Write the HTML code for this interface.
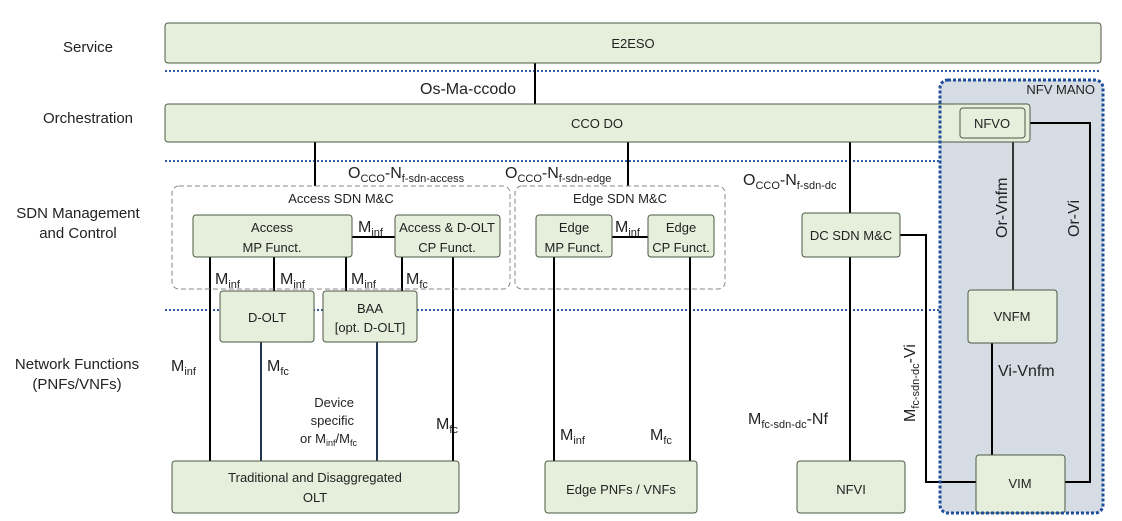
<!DOCTYPE html>
<html><head><meta charset="utf-8"><style>
html,body{margin:0;padding:0;background:#fff}
svg{display:block}
text{font-family:"Liberation Sans",sans-serif;fill:#222}
.b{fill:#e6efdb;stroke:#4a5a44;stroke-width:1}
.l{stroke:#000;stroke-width:2;fill:none}
.d{stroke:#2e5fa8;stroke-width:2;stroke-dasharray:2,2;fill:none}
.t{font-size:13px;text-anchor:middle}
.c{font-size:16px}
.s{font-size:11px}
</style></head><body>
<svg width="1122" height="521" viewBox="0 0 1122 521" xmlns="http://www.w3.org/2000/svg">
<!-- MANO background -->
<rect x="940" y="80" width="163" height="433" rx="8" fill="#d6dce4"/>
<!-- layer labels -->
<g font-size="15" text-anchor="middle">
<text x="88" y="52">Service</text>
<text x="88" y="123">Orchestration</text>
<text x="78" y="218">SDN Management</text>
<text x="78" y="238">and Control</text>
<text x="77" y="369">Network Functions</text>
<text x="77" y="389">(PNFs/VNFs)</text>
</g>
<!-- dotted separators -->
<line class="d" x1="165" y1="71" x2="1100" y2="71"/>
<line class="d" x1="165" y1="161" x2="940" y2="161"/>
<line class="d" x1="165" y1="310" x2="940" y2="310"/>
<!-- connectors -->
<line class="l" x1="535" y1="63" x2="535" y2="104"/>
<line class="l" x1="315" y1="142" x2="315" y2="186"/>
<line class="l" x1="628" y1="142" x2="628" y2="186"/>
<line class="l" x1="850" y1="142" x2="850" y2="213"/>
<line class="l" x1="352" y1="237" x2="395" y2="237"/>
<line class="l" x1="612" y1="237" x2="648" y2="237"/>
<line class="l" x1="210" y1="257" x2="210" y2="461"/>
<line class="l" x1="274" y1="257" x2="274" y2="291"/>
<line class="l" x1="346" y1="257" x2="346" y2="291"/>
<line class="l" x1="402" y1="257" x2="402" y2="291"/>
<line class="l" x1="453" y1="257" x2="453" y2="461"/>
<line class="l" x1="261" y1="342" x2="261" y2="461" style="stroke:#1f3550"/>
<line class="l" x1="377" y1="342" x2="377" y2="461" style="stroke:#1f3550"/>
<line class="l" x1="554" y1="257" x2="554" y2="461"/>
<line class="l" x1="690" y1="257" x2="690" y2="461"/>
<line class="l" x1="850" y1="257" x2="850" y2="461"/>
<polyline class="l" points="900,164 925,164 925,482 976,482" transform="translate(0,0)" style="display:none"/>
<polyline class="l" points="900,235 926,235 926,482 976,482"/>
<line class="l" x1="1013" y1="138" x2="1013" y2="290" style="stroke-width:1.5"/>
<line class="l" x1="992" y1="343" x2="992" y2="455"/>
<polyline class="l" points="1025,123 1090,123 1090,482 1065,482"/>
<!-- dashed groups -->
<rect x="172" y="186" width="338" height="103" rx="7" fill="none" stroke="#888" stroke-dasharray="5,3"/>
<rect x="515" y="186" width="210" height="103" rx="7" fill="none" stroke="#888" stroke-dasharray="5,3"/>
<text class="t" x="341" y="203" font-size="14">Access SDN M&amp;C</text>
<text class="t" x="620" y="203" font-size="14">Edge SDN M&amp;C</text>
<!-- boxes -->
<rect class="b" x="165" y="23" width="936" height="40" rx="3"/>
<text class="t" x="633" y="48">E2ESO</text>
<rect class="b" x="165" y="104" width="865" height="38" rx="3"/>
<text class="t" x="597" y="128">CCO DO</text>
<rect class="b" x="960" y="108" width="65" height="30" rx="3"/>
<text class="t" x="992" y="128">NFVO</text>
<rect class="b" x="193" y="215" width="159" height="42" rx="3"/>
<text class="t" x="272" y="232">Access</text><text class="t" x="272" y="252">MP Funct.</text>
<rect class="b" x="395" y="215" width="105" height="42" rx="3"/>
<text class="t" x="447" y="232">Access &amp; D-OLT</text><text class="t" x="447" y="252">CP Funct.</text>
<rect class="b" x="536" y="215" width="76" height="42" rx="3"/>
<text class="t" x="574" y="232">Edge</text><text class="t" x="574" y="252">MP Funct.</text>
<rect class="b" x="648" y="215" width="66" height="42" rx="3"/>
<text class="t" x="681" y="232">Edge</text><text class="t" x="681" y="252">CP Funct.</text>
<rect class="b" x="802" y="213" width="98" height="44" rx="3"/>
<text class="t" x="851" y="240">DC SDN M&amp;C</text>
<rect class="b" x="220" y="291" width="94" height="51" rx="3"/>
<text class="t" x="267" y="322">D-OLT</text>
<rect class="b" x="323" y="291" width="94" height="51" rx="3"/>
<text class="t" x="370" y="313">BAA</text><text class="t" x="370" y="332">[opt. D-OLT]</text>
<rect class="b" x="172" y="461" width="287" height="52" rx="3"/>
<text class="t" x="315" y="482">Traditional and Disaggregated</text><text class="t" x="315" y="502">OLT</text>
<rect class="b" x="545" y="461" width="152" height="52" rx="3"/>
<text class="t" x="621" y="494">Edge PNFs / VNFs</text>
<rect class="b" x="797" y="461" width="108" height="52" rx="3"/>
<text class="t" x="851" y="494">NFVI</text>
<rect class="b" x="968" y="290" width="89" height="53" rx="3"/>
<text class="t" x="1012" y="321">VNFM</text>
<rect class="b" x="976" y="455" width="89" height="58" rx="3"/>
<text class="t" x="1020" y="488">VIM</text>
<!-- MANO dotted border -->
<rect x="940" y="80" width="163" height="433" rx="8" fill="none" stroke="#1f4e9a" stroke-width="3" stroke-dasharray="3,2"/>
<text x="1095" y="94" font-size="13" text-anchor="end">NFV MANO</text>
<!-- connector labels -->
<text class="c" x="420" y="94">Os-Ma-ccodo</text>
<text class="c" x="348" y="178">O<tspan class="s" dy="4">CCO</tspan><tspan dy="-4">-N</tspan><tspan class="s" dy="4">f-sdn-access</tspan></text>
<text class="c" x="505" y="178">O<tspan class="s" dy="4">CCO</tspan><tspan dy="-4">-N</tspan><tspan class="s" dy="4">f-sdn-edge</tspan></text>
<text class="c" x="743" y="185">O<tspan class="s" dy="4">CCO</tspan><tspan dy="-4">-N</tspan><tspan class="s" dy="4">f-sdn-dc</tspan></text>
<text class="c" x="358" y="232">M<tspan class="s" dy="4">inf</tspan></text>
<text class="c" x="615" y="232">M<tspan class="s" dy="4">inf</tspan></text>
<text class="c" x="215" y="284">M<tspan class="s" dy="4">inf</tspan></text>
<text class="c" x="280" y="284">M<tspan class="s" dy="4">inf</tspan></text>
<text class="c" x="351" y="284">M<tspan class="s" dy="4">inf</tspan></text>
<text class="c" x="406" y="284">M<tspan class="s" dy="4">fc</tspan></text>
<text class="c" x="171" y="371">M<tspan class="s" dy="4">inf</tspan></text>
<text class="c" x="267" y="371">M<tspan class="s" dy="4">fc</tspan></text>
<text class="c" x="436" y="429">M<tspan class="s" dy="4">fc</tspan></text>
<text class="c" x="560" y="440">M<tspan class="s" dy="4">inf</tspan></text>
<text class="c" x="650" y="440">M<tspan class="s" dy="4">fc</tspan></text>
<g font-size="13" text-anchor="end">
<text x="354" y="407">Device</text>
<text x="354" y="425">specific</text>
<text x="357" y="443">or M<tspan font-size="9" dy="3">inf</tspan><tspan dy="-3">/M</tspan><tspan font-size="9" dy="3">fc</tspan></text>
</g>
<text class="c" x="748" y="424">M<tspan class="s" dy="4">fc-sdn-dc</tspan><tspan dy="-4">-Nf</tspan></text>
<text class="c" transform="translate(915,422) rotate(-90)">M<tspan class="s" dy="4">fc-sdn-dc</tspan><tspan dy="-4">-Vi</tspan></text>
<text class="c" transform="translate(1007,238) rotate(-90)">Or-Vnfm</text>
<text class="c" transform="translate(1079,237) rotate(-90)">Or-Vi</text>
<text class="c" x="998" y="376">Vi-Vnfm</text>
</svg>
</body></html>
